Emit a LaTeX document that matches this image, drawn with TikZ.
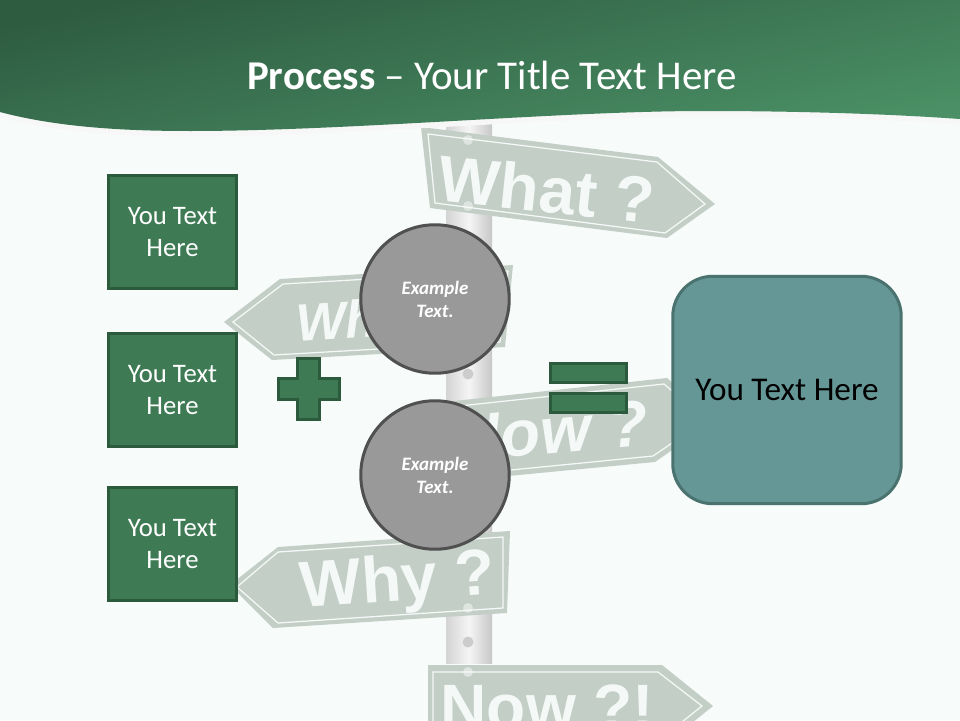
\documentclass[tikz,border=0pt]{standalone}
\usepackage{fontspec}
\setmainfont{Carlito}
\newfontfamily\signfont{Liberation Sans}
\usetikzlibrary{shapes,arrows}
\definecolor{pagebg}{HTML}{F7FBFA}
\definecolor{bandtop}{HTML}{2E5C41}
\definecolor{bandlow}{HTML}{4A8F65}
\definecolor{boxgreen}{HTML}{3E7B54}
\definecolor{boxline}{HTML}{2B5A3C}
\definecolor{signgray}{HTML}{C3CEC7}
\definecolor{signtext}{HTML}{F4F9F7}
\definecolor{discgray}{HTML}{999999}
\definecolor{discline}{HTML}{505050}
\definecolor{tealbox}{HTML}{659797}
\definecolor{tealline}{HTML}{4A7370}
\tikzset{
	textbox/.style  = {draw = boxline, line width = 0.06cm, fill = boxgreen, rectangle,
		minimum width = 2.56cm, minimum height = 2.26cm, text = white, align = center,
		font = \fontsize{15.2}{18.2}\selectfont},
	disc/.style     = {draw = discline, line width = 0.06cm, fill = discgray, circle,
		minimum size = 2.97cm, text = white, align = center,
		font = \fontsize{10.8}{13}\selectfont\bfseries\itshape},
	result/.style   = {draw = tealline, line width = 0.06cm, fill = tealbox, rectangle,
		rounded corners = 0.8cm, minimum width = 4.57cm, minimum height = 4.55cm,
		font = \fontsize{18.9}{20}\selectfont},
	bar/.style      = {draw = boxline, line width = 0.06cm, fill = boxgreen, rectangle,
		minimum width = 1.52cm, minimum height = 0.38cm},
	signplate/.style = {fill = signgray},
	signedge/.style = {draw = signtext, line width = 0.025cm},
	signword/.style = {text = signtext, inner sep = 0pt},
	rivet/.style    = {fill = white, opacity = 0.45, circle, inner sep = 0pt, minimum size = 0.2cm},
	bolt/.style     = {fill = black!20, circle, inner sep = 0pt, minimum size = 0.22cm}
}
\newcommand{\signbig}[1]{\fontsize{#1}{#1}\selectfont\signfont\bfseries}
\begin{document}
\begin{tikzpicture}[x=0.02cm, y=-0.02cm]
	\clip (0,0) rectangle (960,720);
	\fill[pagebg] (0,0) rectangle (960,720);

	% Drawing the post
	\shade[left color=black!17, right color=black!22, middle color=black!4] (446,115) rectangle (492,663);
	\draw
	node at (468,374)[bolt] (b1) {}
	node at (468,642)[bolt] (b2) {};

	% Drawing the signs
	\fill[signplate] (421,127) -- (658,157) -- (715,204) -- (667,238) -- (430,208) -- cycle;
	\draw[signedge] (428,134) -- (657,162) -- (705,204) -- (665,233) -- (435,203) -- cycle;
	\node[signword, rotate=-6] (what) at (547,189) {\signbig{37}What ?};

	\fill[signplate] (224,322) -- (280,279) -- (513,265) -- (505,347) -- (272,360) -- cycle;
	\draw[signedge] (233,322) -- (283,284) -- (508,271) -- (500,342) -- (274,355) -- cycle;
	\node[signword, rotate=3.4] (when) at (391,317) {\signbig{30}\itshape When ?};

	\fill[signplate] (445,402) -- (667,378) -- (715,420) -- (655,462) -- (445,482) -- cycle;
	\draw[signedge] (450,407) -- (664,384) -- (706,420) -- (653,456) -- (450,476) -- cycle;
	\node[signword, rotate=5] (how) at (551,431) {\signbig{37}\itshape How ?};

	\fill[signplate] (230,585) -- (278,547) -- (510,531) -- (507,613) -- (273,628) -- cycle;
	\draw[signedge] (237,587) -- (278,552) -- (503,537) -- (503,608) -- (278,623) -- cycle;
	\node[signword, rotate=4] (why) at (398,584) {\signbig{37}Why ?};

	\fill[signplate] (428,665) -- (662,665) -- (713,706) -- (662,747) -- (428,747) -- cycle;
	\draw[signedge] (433,672) -- (658,672) -- (702,706) -- (658,741) -- (433,741) -- cycle;
	\node[signword] (now) at (547.5,707) {\signbig{36.5}Now ?!};

	\draw
	node at (468,140)[rivet] (r1) {}
	node at (468,206)[rivet] (r2) {}
	node at (468,608)[rivet] (r3) {}
	node at (468,672)[rivet] (r4) {};

	% Drawing the header band
	\draw[black!3, line width=0.14cm] (0,114) .. controls (60,130) and (130,133) .. (190,133)
		.. controls (350,133) and (560,113) .. (704,113) .. controls (800,113) and (890,116) .. (960,121);
	\shade[top color=bandtop, bottom color=bandlow, shading angle=12]
		(0,0) -- (960,0) -- (960,119) .. controls (890,114) and (800,111) .. (704,111)
		.. controls (560,111) and (350,131) .. (190,131) .. controls (130,131) and (60,128) .. (0,112) -- cycle;
	\node[text=white, font=\fontsize{23.3}{26}\selectfont] (title) at (492,75) {\textbf{Process} -- Your Title Text Here};

	% Drawing the blocks
	\draw
	node at (172.5,232)[textbox] (t1) {You Text\\Here}
	node at (172.5,390)[textbox] (t2) {You Text\\Here}
	node at (172.5,544)[textbox] (t3) {You Text\\Here}
	node at (435,299)[disc] (c1) {Example\\Text.}
	node at (435,475)[disc] (c2) {Example\\Text.}
	node at (787,390)[result] (res) {You Text Here}
	node at (588.5,373)[bar] (e1) {}
	node at (588.5,403)[bar] (e2) {};

	% Plus sign
	\draw[draw=boxline, line width=0.06cm, fill=boxgreen]
		(297,358) -- (319,358) -- (319,378) -- (339,378) -- (339,399) -- (319,399)
		-- (319,419) -- (297,419) -- (297,399) -- (278,399) -- (278,378) -- (297,378) -- cycle;
\end{tikzpicture}
\end{document}
